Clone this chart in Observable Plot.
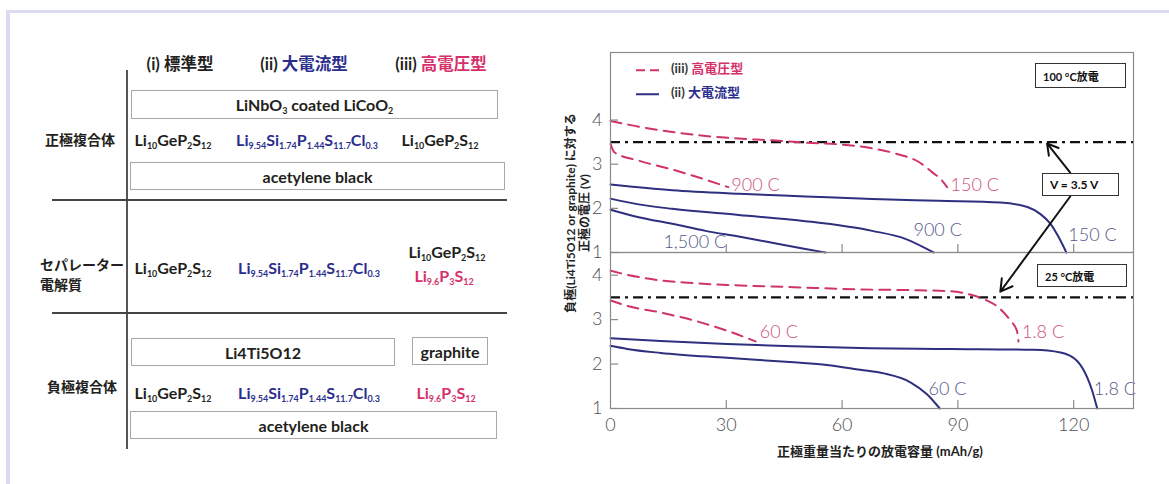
<!DOCTYPE html>
<html><head><meta charset="utf-8">
<script src="https://cdn.jsdelivr.net/npm/d3@7"></script>
<script src="https://cdn.jsdelivr.net/npm/@observablehq/plot@0.6"></script>
<style>
body{margin:0;background:#fff;width:1169px;height:484px;overflow:hidden;position:relative;font-family:Lato,"Noto Sans CJK JP",sans-serif;color:#231f20;}
#root{position:absolute;left:0;top:0;width:1169px;height:484px;}
.deco{position:absolute;left:6px;top:10px;width:1300px;height:600px;border-top:3px solid #dcdcf0;border-left:4px solid #dcdcf0;}
.t{position:absolute;font-weight:700;font-size:16px;white-space:nowrap;transform:translate(-50%,-50%);line-height:1.2;}
.box{position:absolute;border:1.5px solid #a8a8a8;box-sizing:border-box;display:flex;align-items:center;justify-content:center;font-weight:700;font-size:16px;white-space:nowrap;}
.abox{position:absolute;border:1.5px solid #333;box-sizing:border-box;display:flex;align-items:center;padding-left:7px;font-weight:700;font-size:11px;white-space:nowrap;color:#111;}
sub{font-size:56%;vertical-align:-0.3em;line-height:0;}
.plotwrap{position:absolute;}
</style></head><body>
<div id="root"><div class="deco"></div></div>
<script>
// ---------- data: left diagram ----------
const colHeads = [["(i) ","標準型"],["(ii) ","大電流型"],["(iii) ","高電圧型"]];
const rowLabels = ["正極複合体","セパレーター<br>電解質","負極複合体"];
const LGPS = "Li_{10}GeP_{2}S_{12}";
const LSPSCl = "Li_{9.54}Si_{1.74}P_{1.44}S_{11.7}Cl_{0.3}";
const LPS = "Li_{9.6}P_{3}S_{12}";
const boxTexts = ["LiNbO_{3} coated LiCoO_{2}","acetylene black","Li4Ti5O12","graphite","acetylene black"];
const cathodeSE = [LGPS, LSPSCl, LGPS];
const separatorSE = [LGPS, LSPSCl, LGPS, LPS];
const anodeSE = [LGPS, LSPSCl, LPS];

// ---------- data: discharge curves (capacity mAh/g, voltage V) ----------
const xTicks = [0,30,60,90,120];
const yTicksTop = [1,2,3,4];
const yTicksBot = [1,2,3,4];
const xDomain = [0,135.5];
const yDomainTop = [1,5.53];
const yDomainBot = [1,4.51];
const cutoffV = 3.5;

// 100 °C discharge
const hiV150_100 = [[0,3.98],[7.3,3.85],[16,3.73],[24.6,3.64],[33.2,3.58],[41.9,3.54],[50.5,3.49],[59.1,3.45],[67.8,3.36],[74.7,3.22],[79.9,3.05],[83.3,2.82],[85.9,2.63],[87.2,2.48]];
const hiV900_100 = [[0,3.46],[1,3.27],[7.3,3.08],[16,2.88],[24.6,2.65],[30.5,2.48]];
const hiI150_100 = [[0,2.54],[16,2.41],[33.2,2.33],[50.5,2.27],[67.8,2.21],[85,2.17],[101,2.13],[108,2.03],[111.4,1.87],[114,1.65],[116.1,1.35],[118.1,1.0]];
const hiI900_100 = [[0,2.22],[7.3,2.09],[16,1.99],[33.2,1.85],[50.5,1.71],[67.8,1.49],[76.4,1.31],[83.7,1.0]];
const hiI1500_100 = [[0,1.97],[7.3,1.80],[16,1.65],[24.6,1.49],[33.2,1.36],[41.9,1.22],[50.5,1.08],[55.7,1.0]];
// 25 °C discharge
const hiV18_25 = [[0,4.10],[4.3,4.01],[13,3.88],[21.6,3.82],[30.2,3.78],[47.5,3.73],[64.7,3.68],[79.4,3.66],[88,3.64],[92.4,3.58],[96.7,3.46],[101,3.24],[103.6,2.98],[105.3,2.75],[105.7,2.51]];
const hiV60_25 = [[0,3.43],[4.3,3.31],[13,3.16],[21.6,2.98],[30.2,2.75],[37.6,2.51]];
const hiI18_25 = [[0,2.58],[13,2.52],[30.2,2.45],[47.5,2.40],[64.7,2.36],[88,2.34],[109.6,2.32],[116.6,2.26],[120.9,2.07],[123.5,1.70],[124.8,1.40],[126.1,1.0]];
const hiI60_25 = [[0,2.41],[4.3,2.34],[13,2.25],[30.2,2.14],[47.5,2.04],[56.1,1.98],[64.7,1.87],[70.8,1.79],[77.7,1.59],[82,1.32],[85.3,1.0]];

const rateLabelsTop = [
  {x:31.3,y:2.53,text:"900 C",type:"iii"},
  {x:88.1,y:2.52,text:"150 C",type:"iii"},
  {x:13.7,y:1.23,text:"1,500 C",type:"ii"},
  {x:78.5,y:1.51,text:"900 C",type:"ii"},
  {x:118.6,y:1.38,text:"150 C",type:"ii"}];
const rateLabelsBot = [
  {x:38.7,y:2.71,text:"60 C",type:"iii"},
  {x:106.6,y:2.71,text:"1.8 C",type:"iii"},
  {x:82.4,y:1.44,text:"60 C",type:"ii"},
  {x:125.2,y:1.44,text:"1.8 C",type:"ii"}];
const arrowTop = [{x1:119.1,y1:2.81,x2:113.1,y2:3.47}];
const arrowBot = [{x1:119.1,y1:5.77,x2:101,y2:3.63}];
const legendItems = [["(iii) ","高電圧型","iii"],["(ii) ","大電流型","ii"]];
const panelTags = ["100 °C放電","25 °C放電"];
const cutoffTag = "V = 3.5 V";
const yTitle = ["負極(Li4Ti5O12 or graphite) に対する","正極の電圧 (V)"];
const xTitle = "正極重量当たりの放電容量 (mAh/g)";

// ---------- styles ----------
const RED = "#d0336a", BLUE = "#2e2f7e", RED_T = "#cc4f7b", BLUE_T = "#55578a";
const BLUE_H = "#2b2e8c", RED_H = "#d6306b";
const typeColor = {iii: RED, ii: BLUE};
const typeTextColor = {iii: RED_T, ii: BLUE_T};

const root = document.getElementById("root");
const fmt = s => s.replace(/_\{([^}]*)\}/g, "<sub>$1</sub>");
function place(html, cx, cy, extra = {}) {
  const d = document.createElement("div");
  d.className = "t"; d.innerHTML = html;
  d.style.left = cx + "px"; d.style.top = cy + "px";
  Object.assign(d.style, extra); root.appendChild(d); return d;
}
function box(x0, y0, x1, y1, html, cls = "box") {
  const d = document.createElement("div");
  d.className = cls; d.innerHTML = `<span>${html}</span>`;
  Object.assign(d.style, {left: x0 + "px", top: y0 + "px", width: (x1 - x0) + "px", height: (y1 - y0) + "px"});
  root.appendChild(d); return d;
}
function line(x0, y0, x1, y1, w, c) {
  const d = document.createElement("div");
  Object.assign(d.style, {position:"absolute", left: x0 + "px", top: y0 + "px", width: Math.max(w, x1 - x0) + "px", height: Math.max(w, y1 - y0) + "px", background: c});
  root.appendChild(d);
}

// ---------- left diagram ----------
const headColors = ["#231f20", BLUE_H, RED_H];
[180, 304, 441].forEach((cx, i) => place(`${colHeads[i][0]}<span style="color:${headColors[i]}">${colHeads[i][1]}</span>`, cx, 65, {fontSize: "16.5px"}));
line(126, 70, 126, 449, 2, "#555");
line(52, 199, 507, 199, 1.5, "#444");
line(52, 312, 507, 312, 1.5, "#444");
box(131, 90, 498, 119, fmt(boxTexts[0]));
box(130, 162, 505, 190, fmt(boxTexts[1]));
box(131, 338, 395, 366, fmt(boxTexts[2]));
box(412, 337, 488, 365, fmt(boxTexts[3]));
box(130, 411, 497, 439, fmt(boxTexts[4]));
place(rowLabels[0], 80, 140, {fontSize: "14px"});
place(rowLabels[2], 82, 387, {fontSize: "14px"});
place(rowLabels[1], 40, 275, {fontSize: "14px", transform: "translate(0,-50%)", lineHeight: "20px"});
place(fmt(cathodeSE[0]), 173, 140);
place(fmt(cathodeSE[1]), 307, 140, {color: BLUE_H});
place(fmt(cathodeSE[2]), 440, 140);
place(fmt(separatorSE[0]), 173, 268);
place(fmt(separatorSE[1]), 309, 268, {color: BLUE_H});
place(fmt(separatorSE[2]), 447, 252);
place(fmt(separatorSE[3]), 444, 276, {color: RED_H});
place(fmt(anodeSE[0]), 173, 393);
place(fmt(anodeSE[1]), 309, 393, {color: BLUE_H});
place(fmt(anodeSE[2]), 446, 393, {color: RED_H});

// ---------- curves ----------
const toRows = (arr, type, rate) => arr.map(([x, y]) => ({x, y, type, series: type + rate}));
const topData = [
  ...toRows(hiV150_100, "iii", "150"), ...toRows(hiV900_100, "iii", "900"),
  ...toRows(hiI150_100, "ii", "150"), ...toRows(hiI900_100, "ii", "900"), ...toRows(hiI1500_100, "ii", "1500")];
const botData = [
  ...toRows(hiV18_25, "iii", "1.8"), ...toRows(hiV60_25, "iii", "60"),
  ...toRows(hiI18_25, "ii", "1.8"), ...toRows(hiI60_25, "ii", "60")];

const W = 609, ML = 50, MR = 36;
const tickLenX = 8 / (W - ML - MR) * (xDomain[1] - xDomain[0]);
function panelMarks(data, labels, yTicks, yDomain, plotH) {
  const tickLenY = 8 / plotH * (yDomain[1] - yDomain[0]);
  return [
    Plot.ruleY([cutoffV], {stroke: "#111", strokeWidth: 2.2, strokeDasharray: "10,5,3,5"}),
    Plot.line(data.filter(d => d.type === "iii"), {x: "x", y: "y", z: "series", stroke: RED, strokeWidth: 2, strokeDasharray: "11,7", curve: "monotone-x"}),
    Plot.line(data.filter(d => d.type === "ii"), {x: "x", y: "y", z: "series", stroke: BLUE, strokeWidth: 2, curve: "monotone-x"}),
    Plot.text(labels, {x: "x", y: "y", text: "text", fill: d => typeTextColor[d.type], textAnchor: "start", fontSize: 18, fontWeight: 300}),
    Plot.ruleY(yTicks, {y: d => d, x1: xDomain[0], x2: xDomain[0] + tickLenX, stroke: "#8a8a8a", strokeWidth: 1.2}),
    Plot.ruleX(xTicks.slice(1), {x: d => d, y1: yDomain[0], y2: yDomain[0] + tickLenY, stroke: "#8a8a8a", strokeWidth: 1.2}),
    Plot.axisY(yTicks, {tickSize: 0, tickPadding: 8, fontSize: 18, fontWeight: 300, color: "#505050", label: null}),
    Plot.frame({stroke: "#8a8a8a", strokeWidth: 1.2})
  ];
}
const svgStyle = {background: "transparent", overflow: "visible", fontFamily: "Lato, sans-serif", maxWidth: "none"};

const topPlot = Plot.plot({
  width: W, height: 212, marginLeft: ML, marginRight: MR, marginTop: 12, marginBottom: 0,
  style: svgStyle,
  x: {domain: xDomain, label: null, axis: null},
  y: {domain: yDomainTop, label: null},
  marks: [
    ...panelMarks(topData, rateLabelsTop, yTicksTop, yDomainTop, 200),
    Plot.arrow(arrowTop, {x1: "x1", y1: "y1", x2: "x2", y2: "y2", stroke: "#111", strokeWidth: 2, headLength: 10})
  ]
});
const botPlot = Plot.plot({
  width: W, height: 268, marginLeft: ML, marginRight: MR, marginTop: 72, marginBottom: 40,
  style: svgStyle,
  x: {domain: xDomain, label: null},
  y: {domain: yDomainBot, label: null},
  marks: [
    ...panelMarks(botData, rateLabelsBot, yTicksBot, yDomainBot, 156),
    Plot.axisX(xTicks, {tickSize: 0, tickPadding: 10, fontSize: 18, fontWeight: 300, color: "#505050", label: null}),
    Plot.arrow(arrowBot, {x1: "x1", y1: "y1", x2: "x2", y2: "y2", stroke: "#111", strokeWidth: 2, headLength: 10})
  ]
});
const w1 = document.createElement("div"); w1.className = "plotwrap"; w1.style.left = "560px"; w1.style.top = "40px"; w1.appendChild(topPlot); root.appendChild(w1);
const w2 = document.createElement("div"); w2.className = "plotwrap"; w2.style.left = "560px"; w2.style.top = "180px"; w2.appendChild(botPlot); root.appendChild(w2);

// ---------- annotations ----------
legendItems.forEach(([pre, name, type], i) => {
  const cy = [69, 93][i];
  const dash = type === "iii" ? 'stroke-dasharray="9,5"' : "";
  place(`<svg width="28" height="6" style="vertical-align:middle;margin-right:7px"><line x1="0" y1="3" x2="${type === "iii" ? 27 : 23}" y2="3" stroke="${typeColor[type]}" stroke-width="2" ${dash}/></svg>${pre}<span style="color:${type === "iii" ? RED_H : BLUE_H}">${name}</span>`,
    636, cy, {transform: "translate(0,-50%)", fontSize: "13px", color: "#333"});
});
box(1035, 63, 1126, 88, panelTags[0], "abox");
box(1037, 264, 1127, 287, panelTags[1], "abox");
box(1042, 173, 1119, 196, cutoffTag, "abox").style.fontSize = "12px";
place(yTitle[0] + "<br>" + yTitle[1], 578, 213, {transform: "translate(-50%,-50%) rotate(-90deg)", fontSize: "12px", lineHeight: "14px", textAlign: "center", color: "#222"});
place(xTitle, 880, 452, {fontSize: "13px", color: "#222"});
</script>
</body></html>
